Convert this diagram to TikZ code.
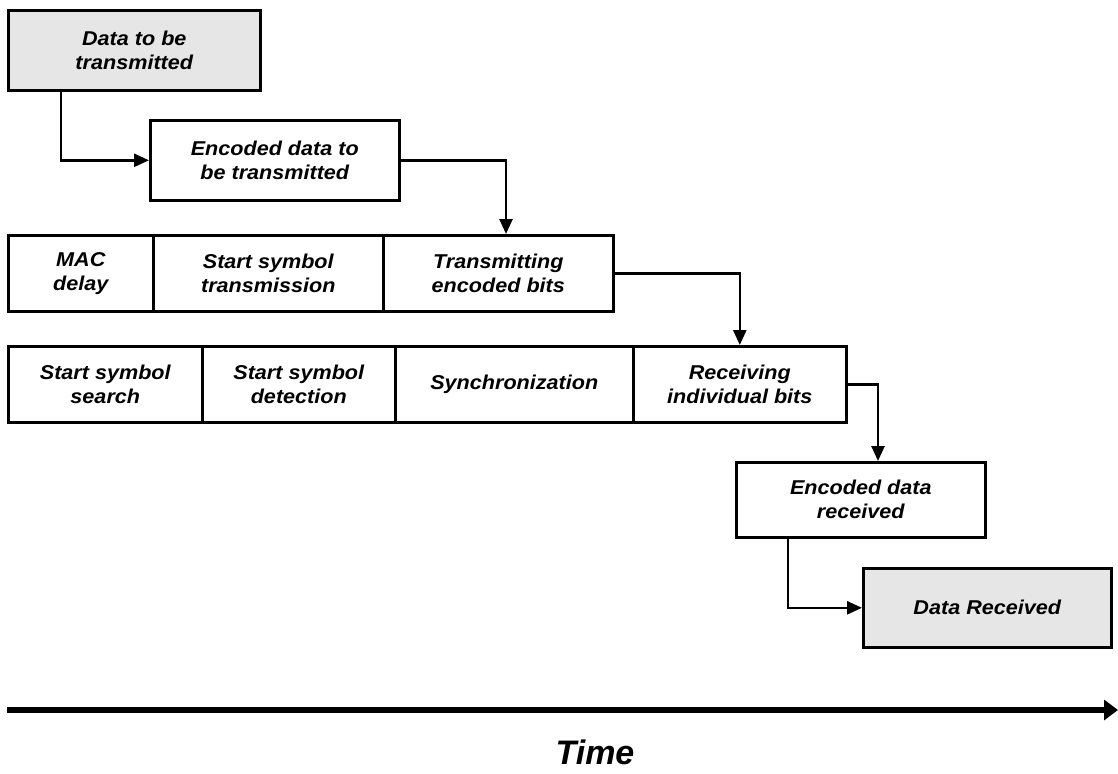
\documentclass[tikz,border=0pt]{standalone}
\usepackage{fontspec}
\setmainfont{Liberation Sans}
\newfontfamily\boxfont[FakeStretch=1.08]{Liberation Sans}
\usetikzlibrary{arrows.meta,calc}
\definecolor{boxgray}{HTML}{E6E6E6}
\tikzset{
  cell/.style={draw=black, line width=2.6pt, anchor=north west, inner sep=0pt,
    align=center, font=\boxfont\bfseries\itshape\fontsize{20}{24}\selectfont},
  grey/.style={cell, fill=boxgray},
  conn/.style={line width=2.6pt, -{Triangle[length=15pt,width=13pt]}},
}
\newcommand{\cellat}[6]{\node[#1, minimum width=#4pt, minimum height=#5pt] (#2) at (#3) {#6};}
\begin{document}
\begin{tikzpicture}[x=1pt,y=-1pt]
\useasboundingbox (0,0) rectangle (1118,773);
% boxes
\cellat{grey}{b1}{7,9}{252}{80}{Data to be\\transmitted}
\cellat{cell}{b2}{149,119}{249}{80}{Encoded data to\\be transmitted}
\cellat{cell}{r3a}{7,234}{145}{76}{MAC\\delay}
\cellat{cell}{r3b}{152,234}{230}{76}{Start symbol\\transmission}
\cellat{cell}{r3c}{382,234}{230}{76}{Transmitting\\encoded bits}
\cellat{cell}{r4a}{7,345}{194}{76}{Start symbol\\search}
\cellat{cell}{r4b}{201,345}{193}{76}{Start symbol\\detection}
\cellat{cell}{r4c}{394,345}{238}{76}{Synchronization}
\cellat{cell}{r4d}{632,345}{213}{76}{Receiving\\individual bits}
\cellat{cell}{e}{735,461}{249}{75}{Encoded data\\received}
\cellat{grey}{f}{862,567}{248}{79}{Data Received}
% connectors
\draw[conn] ($(b1.south west)+(54,0)$) |- (b2.west);
\draw[conn] (b2.east) -| ($(r3c.north west)+(124,0)$);
\draw[conn] (r3c.east) -| (r4d.north);
\draw[conn] (r4d.east) -| ($(e.north west)+(143,0)$);
\draw[conn] ($(e.south west)+(53,0)$) |- (f.west);
% time axis
\coordinate (t0) at (7,710);
\coordinate (t1) at (1118,710);
\draw[line width=6pt, -{Triangle[length=14pt,width=20pt]}] (t0) -- (t1);
\node[font=\bfseries\itshape\fontsize{34}{38}\selectfont, inner sep=0pt] (time) at (595,752) {Time};
\end{tikzpicture}
\end{document}
